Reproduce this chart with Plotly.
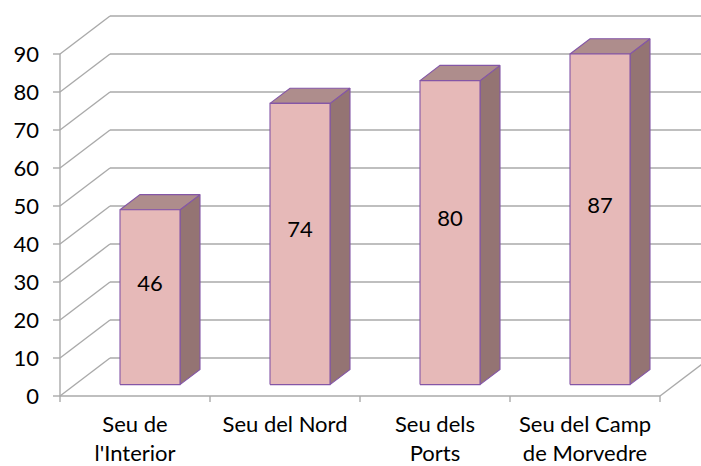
import plotly.graph_objects as go

# ---- data ----
categories = ["Seu de<br>l'Interior", "Seu del Nord", "Seu dels<br>Ports", "Seu del Camp<br>de Morvedre"]
values = [46, 74, 80, 87]
y_ticks = [0, 10, 20, 30, 40, 50, 60, 70, 80, 90]

# ---- pseudo-3D projection (oblique) ----
W, H = 701, 466
PX_X = 150.0      # pixels per category unit
PX_Y = 3.8        # pixels per value unit
DX = 1 / 3        # x shift of the back wall (category units)
DY = 10.0         # y shift of the back wall (value units)
D0, D1 = 0.3, 0.7  # depth range of the bars
HALF = 0.2        # half bar width

ML, MB = 50, 62
x_start = -0.5 - 10 / PX_X
x_end = x_start + (W - ML) / PX_X
y_start = -8 / PX_Y
y_end = y_start + (H - MB) / PX_Y

def P(x, y, d):
    return x + d * DX, y + d * DY

GRID = "#aaaaaa"
FRONT = "#e6b9b8"
TOP = "#ae8d8c"
SIDE = "#947473"
EDGE = "#8456a6"
FONT = "Lato"
FS = 22

n = len(categories)
left, right = -0.5, n - 0.5
vmax = y_ticks[-1]

fig = go.Figure()

def seg_trace(segs, color=GRID, width=1.4):
    xs, ys = [], []
    for (a, b) in segs:
        xs += [a[0], b[0], None]
        ys += [a[1], b[1], None]
    fig.add_trace(go.Scatter(x=xs, y=ys, mode="lines", line=dict(color=color, width=width),
                             hoverinfo="skip", showlegend=False))

# back wall gridlines and left wall diagonals
segs = []
for v in y_ticks:
    segs.append((P(left, v, 1), P(right + 1, v, 1)))
    segs.append((P(left, v, 0), P(left, v, 1)))
# floor front edge and right diagonal
segs.append((P(left, 0, 0), P(right, 0, 0)))
segs.append((P(right, 0, 0), P(right, 0, 1)))
# front value axis line
segs.append((P(left, 0, 0), P(left, vmax, 0)))
# value-axis tick marks
for v in y_ticks:
    segs.append(((left - 7 / PX_X, v), (left, v)))
# category tick marks
for k in range(n + 1):
    b = left + k
    segs.append(((b, 0), (b, -6 / PX_Y)))
seg_trace(segs)

def poly(pts, fill):
    xs = [p[0] for p in pts] + [pts[0][0]]
    ys = [p[1] for p in pts] + [pts[0][1]]
    fig.add_trace(go.Scatter(x=xs, y=ys, mode="lines", fill="toself", fillcolor=fill,
                             line=dict(color=EDGE, width=1.1), hoverinfo="skip", showlegend=False))

for i, v in enumerate(values):
    xl, xr = i - HALF, i + HALF
    # side face
    poly([P(xr, 0, D0), P(xr, 0, D1), P(xr, v, D1), P(xr, v, D0)], SIDE)
    # top face
    poly([P(xl, v, D0), P(xr, v, D0), P(xr, v, D1), P(xl, v, D1)], TOP)
    # front face
    poly([P(xl, 0, D0), P(xr, 0, D0), P(xr, v, D0), P(xl, v, D0)], FRONT)

# data labels
lx, ly = [], []
for i, v in enumerate(values):
    cx, cy = P(i, v / 2, D0)
    lx.append(cx)
    ly.append(cy + (D1 - D0) * DY * 0.8)
fig.add_trace(go.Scatter(x=lx, y=ly, mode="text", text=[str(v) for v in values],
                         textfont=dict(family=FONT, size=FS, color="#000000"),
                         hoverinfo="skip", showlegend=False))

fig.update_layout(
    width=W, height=H,
    margin=dict(l=ML, r=0, t=0, b=MB),
    paper_bgcolor="white", plot_bgcolor="white",
    showlegend=False,
    xaxis=dict(range=[x_start, x_end], showgrid=False, zeroline=False, showline=False,
               tickvals=list(range(n)), ticktext=categories, ticks="",
               tickfont=dict(family=FONT, size=FS, color="#000000"),
               ticklabelstandoff=5, fixedrange=True),
    yaxis=dict(range=[y_start, y_end], showgrid=False, zeroline=False, showline=False,
               tickvals=y_ticks, ticks="",
               tickfont=dict(family=FONT, size=FS, color="#000000"),
               ticklabelstandoff=10, fixedrange=True),
)

fig.write_html("out.html", config={"displayModeBar": False},
               post_script="document.body.style.margin='0';document.body.style.padding='0';")
